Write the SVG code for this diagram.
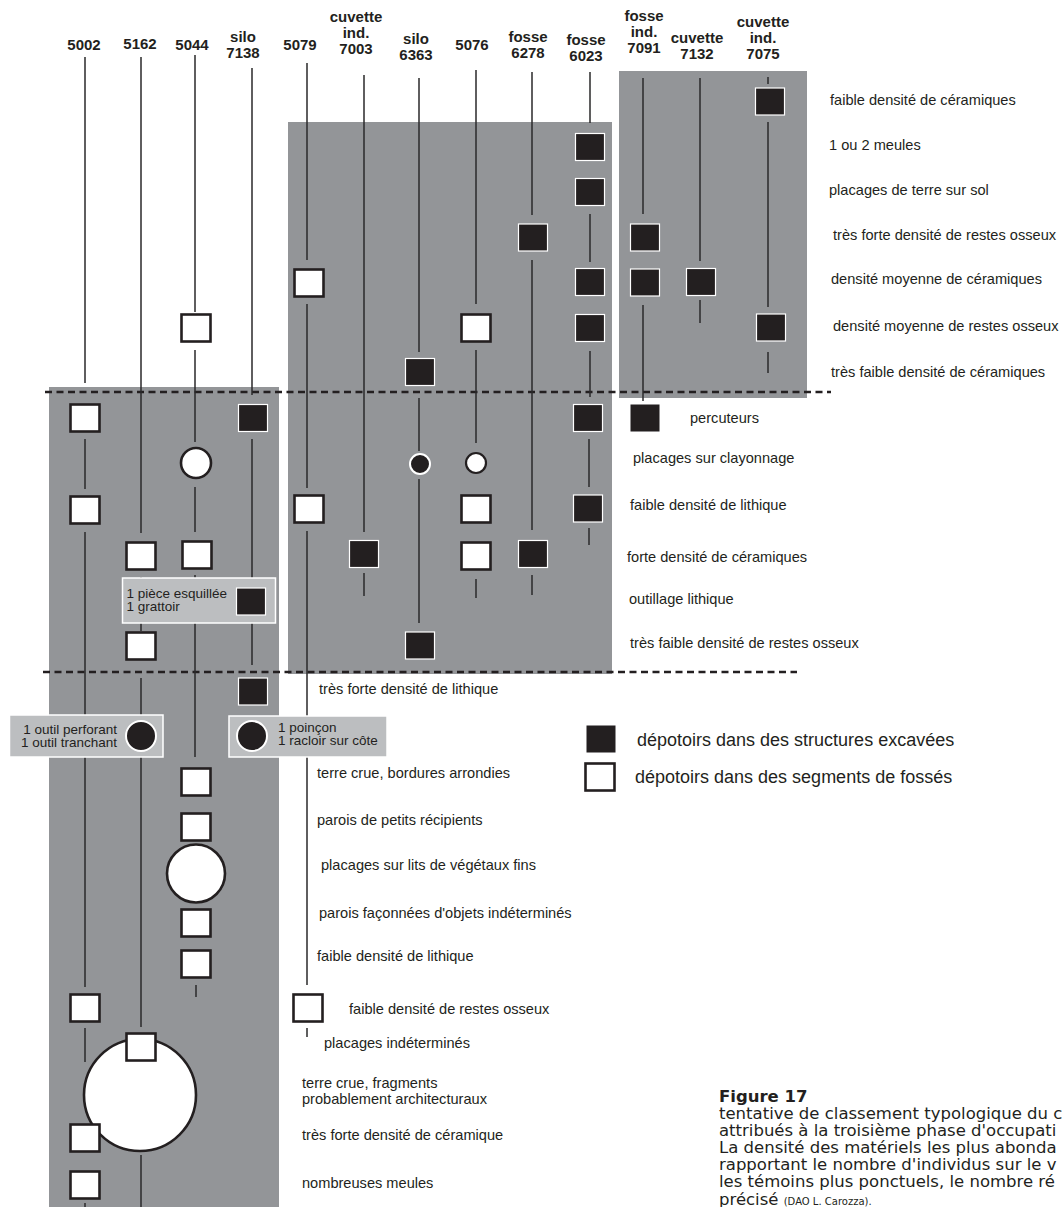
<svg xmlns="http://www.w3.org/2000/svg" width="1062" height="1207" viewBox="0 0 1062 1207">
<style>
.bg{fill:#ffffff}
.panel{fill:#939598}
.call{fill:#bcbec0;stroke:#ffffff;stroke-width:1.5}
.ln{stroke:#2b2a2b;stroke-width:1.5;fill:none}
.dash{stroke:#231f20;stroke-width:2.5;stroke-dasharray:7 4.5;fill:none}
.sw{fill:#ffffff;stroke:#231f20;stroke-width:2.6}
.sb{fill:#231f20;stroke:#ffffff;stroke-width:1.2}
.sbn{fill:#231f20}
.cw{fill:#ffffff;stroke:#231f20;stroke-width:2.6}
.cb{fill:#231f20;stroke:#ffffff;stroke-width:2}
.hd{font-family:"Liberation Sans",Arial,sans-serif;font-weight:bold;font-size:15px;fill:#231f20;text-anchor:middle}
.lb{font-family:"Liberation Sans",Arial,sans-serif;font-size:14.6px;fill:#231f20}
.ct{font-family:"Liberation Sans",Arial,sans-serif;font-size:13.5px;fill:#231f20}
.lg{font-family:"Liberation Sans",Arial,sans-serif;font-size:18px;fill:#231f20}
.cap{font-family:"DejaVu Sans",Verdana,sans-serif;font-size:16.5px;fill:#231f20}
</style>
<rect class="bg" x="0" y="0" width="1062" height="1207"/>

<g id="panels">
<rect class="panel" x="49" y="387" width="230" height="820"/>
<rect class="panel" x="288" y="122" width="324" height="552"/>
<rect class="panel" x="619" y="71" width="188" height="327"/>
</g>

<g id="phase-limits">
<line class="dash" x1="45" y1="392" x2="831" y2="392"/>
<line class="dash" x1="43" y1="672" x2="797" y2="672"/>
</g>

<g id="connectors">
<path class="ln" d="M85 57V383M85 439V489M85 532V987M85 1028V1062M85 1203V1207"/>
<path class="ln" d="M141 57V533M141 577V631M141 678V1027M141 1155V1207"/>
<path class="ln" d="M195 55V312M195 350V442M195 487V532M195 575V757M196 985V997"/>
<path class="ln" d="M252 68V395M252 439V665"/>
<path class="ln" d="M307 63V260M307 304V488M307 531V985M307 1028V1037"/>
<path class="ln" d="M364 75V532M364 573V596"/>
<path class="ln" d="M419 78V352M419 398V451M419 479V623"/>
<path class="ln" d="M476 70V304M476 350V443M476 579V598"/>
<path class="ln" d="M532 72V215M532 260V530M532 575V595"/>
<path class="ln" d="M590 72V123M590 214V262M590 351V397M589 439V487M589 528V545"/>
<path class="ln" d="M643 78V214M643 305V401"/>
<path class="ln" d="M700 78V261M700 300V323"/>
<path class="ln" d="M768 77V84M768 122V307M768 352V373"/>
</g>

<g id="callouts">
<rect id="callout-7138" class="call" x="122.5" y="578" width="153" height="45"/>
<rect id="callout-5162" class="call" x="9.5" y="715" width="153.5" height="42"/>
<rect id="callout-7138b" class="call" x="229" y="716" width="158" height="41"/>
<text class="ct" x="126.5" y="598">1 pièce esquillée</text>
<text class="ct" x="126.5" y="611">1 grattoir</text>
<text class="ct" x="117" y="734" text-anchor="end">1 outil perforant</text>
<text class="ct" x="117" y="747" text-anchor="end">1 outil tranchant</text>
<text class="ct" x="278" y="732">1 poinçon</text>
<text class="ct" x="278" y="745">1 racloir sur côte</text>
</g>

<g id="col-5002">
<text class="hd" x="84" y="50">5002</text>
<rect class="sw" x="70.5" y="404.5" width="29" height="27"/>
<rect class="sw" x="70.5" y="496.5" width="29" height="27"/>
<rect class="sw" x="70.5" y="994.5" width="29" height="27"/>
</g>

<g id="col-5162">
<text class="hd" x="140" y="49">5162</text>
<rect class="sw" x="126.5" y="542.5" width="29" height="27"/>
<rect class="sw" x="126.5" y="632.5" width="29" height="27"/>
<circle class="cb" cx="141" cy="736" r="15"/>
<circle class="cw" cx="140" cy="1095" r="56"/>
<rect class="sw" x="126.5" y="1033.5" width="29" height="27"/>
</g>

<g id="col-5002-low">
<rect class="sw" x="70.5" y="1124.5" width="29" height="27"/>
<rect class="sw" x="70.5" y="1171.5" width="29" height="27"/>
</g>

<g id="col-5044">
<text class="hd" x="192" y="50">5044</text>
<rect class="sw" x="181.5" y="314.5" width="29" height="27"/>
<circle class="cw" cx="196" cy="463" r="15"/>
<rect class="sw" x="182.5" y="541.5" width="29" height="27"/>
<rect class="sw" x="181.5" y="768.5" width="29" height="27"/>
<rect class="sw" x="181.5" y="813.5" width="29" height="27"/>
<circle class="cw" cx="196" cy="873.5" r="29"/>
<rect class="sw" x="181.5" y="909.5" width="29" height="27"/>
<rect class="sw" x="181.5" y="950.5" width="29" height="27"/>
</g>

<g id="col-7138">
<text class="hd" x="243" y="42">silo</text>
<text class="hd" x="243" y="58">7138</text>
<rect class="sb" x="238.5" y="404.5" width="29" height="27"/>
<rect class="sb" x="236.5" y="588" width="29" height="27"/>
<rect class="sb" x="238.5" y="678" width="29" height="27"/>
<circle class="cb" cx="252" cy="736" r="15"/>
</g>

<g id="col-5079">
<text class="hd" x="300" y="50">5079</text>
<rect class="sw" x="294.5" y="269.5" width="29" height="27"/>
<rect class="sw" x="294.5" y="495.5" width="29" height="27"/>
<rect class="sw" x="293.5" y="994.5" width="29" height="27"/>
</g>

<g id="col-7003">
<text class="hd" x="356" y="22">cuvette</text>
<text class="hd" x="356" y="38">ind.</text>
<text class="hd" x="356" y="54">7003</text>
<rect class="sb" x="349.5" y="540.5" width="29" height="27"/>
</g>

<g id="col-6363">
<text class="hd" x="416" y="44">silo</text>
<text class="hd" x="416" y="60">6363</text>
<rect class="sb" x="405.5" y="358.5" width="29" height="27"/>
<circle class="cb" cx="420" cy="464" r="10"/>
<rect class="sb" x="405.5" y="632" width="29" height="27"/>
</g>

<g id="col-5076">
<text class="hd" x="472" y="50">5076</text>
<rect class="sw" x="461.5" y="314.5" width="29" height="27"/>
<circle class="cw" cx="476" cy="463" r="10" style="stroke-width:2.2"/>
<rect class="sw" x="461.5" y="495.5" width="29" height="27"/>
<rect class="sw" x="461.5" y="542.5" width="29" height="27"/>
</g>

<g id="col-6278">
<text class="hd" x="528" y="42">fosse</text>
<text class="hd" x="528" y="58">6278</text>
<rect class="sb" x="518.5" y="224" width="29" height="27"/>
<rect class="sb" x="518.5" y="540.5" width="29" height="27"/>
</g>

<g id="col-6023">
<text class="hd" x="586" y="45">fosse</text>
<text class="hd" x="586" y="61">6023</text>
<rect class="sb" x="575.5" y="133.5" width="29" height="27"/>
<rect class="sb" x="575.5" y="178.5" width="29" height="27"/>
<rect class="sb" x="575.5" y="268.5" width="29" height="27"/>
<rect class="sb" x="575.5" y="314.5" width="29" height="27"/>
<rect class="sb" x="573.5" y="404.5" width="29" height="27"/>
<rect class="sb" x="573.5" y="495" width="29" height="27"/>
</g>

<g id="col-7091">
<text class="hd" x="644" y="21">fosse</text>
<text class="hd" x="644" y="37">ind.</text>
<text class="hd" x="644" y="53">7091</text>
<rect class="sb" x="630.5" y="224" width="29" height="27"/>
<rect class="sb" x="630.5" y="269" width="29" height="27"/>
<rect class="sbn" x="630.5" y="404.5" width="29" height="27"/>
</g>

<g id="col-7132">
<text class="hd" x="697" y="43">cuvette</text>
<text class="hd" x="697" y="59">7132</text>
<rect class="sb" x="686.5" y="268.5" width="29" height="27"/>
</g>

<g id="col-7075">
<text class="hd" x="763" y="27">cuvette</text>
<text class="hd" x="763" y="43">ind.</text>
<text class="hd" x="763" y="59">7075</text>
<rect class="sb" x="755.5" y="88" width="29" height="27"/>
<rect class="sb" x="756.5" y="314" width="29" height="27"/>
</g>

<g id="labels-upper">
<text class="lb" x="830" y="105">faible densité de céramiques</text>
<text class="lb" x="829" y="150">1 ou 2 meules</text>
<text class="lb" x="829" y="195">placages de terre sur sol</text>
<text class="lb" x="833" y="240">très forte densité de restes osseux</text>
<text class="lb" x="831" y="284">densité moyenne de céramiques</text>
<text class="lb" x="833" y="331">densité moyenne de restes osseux</text>
<text class="lb" x="831" y="377">très faible densité de céramiques</text>
</g>

<g id="labels-middle">
<text class="lb" x="690" y="423">percuteurs</text>
<text class="lb" x="633" y="463">placages sur clayonnage</text>
<text class="lb" x="630" y="510">faible densité de lithique</text>
<text class="lb" x="627" y="562">forte densité de céramiques</text>
<text class="lb" x="629" y="604">outillage lithique</text>
<text class="lb" x="630" y="648">très faible densité de restes osseux</text>
</g>

<g id="labels-lower">
<text class="lb" x="319" y="694">très forte densité de lithique</text>
<text class="lb" x="317" y="778">terre crue, bordures arrondies</text>
<text class="lb" x="317" y="825">parois de petits récipients</text>
<text class="lb" x="321" y="870">placages sur lits de végétaux fins</text>
<text class="lb" x="319" y="918">parois façonnées d'objets indéterminés</text>
<text class="lb" x="317" y="961">faible densité de lithique</text>
<text class="lb" x="349" y="1014">faible densité de restes osseux</text>
<text class="lb" x="324" y="1048">placages indéterminés</text>
<text class="lb" x="302" y="1088">terre crue, fragments</text>
<text class="lb" x="302" y="1104">probablement architecturaux</text>
<text class="lb" x="302" y="1140">très forte densité de céramique</text>
<text class="lb" x="302" y="1188">nombreuses meules</text>
</g>

<g id="legend">
<rect class="sbn" x="586.5" y="725.5" width="29" height="27"/>
<rect class="sw" x="585.5" y="763.5" width="29" height="27"/>
<text class="lg" x="637" y="746">dépotoirs dans des structures excavées</text>
<text class="lg" x="635" y="783">dépotoirs dans des segments de fossés</text>
</g>

<g id="caption">
<text class="cap" x="719" y="1102" font-weight="bold" font-size="15.5px">Figure 17</text>
<text class="cap" x="719" y="1119">tentative de classement typologique du c</text>
<text class="cap" x="719" y="1136">attribués à la troisième phase d'occupati</text>
<text class="cap" x="719" y="1153">La densité des matériels les plus abonda</text>
<text class="cap" x="719" y="1170">rapportant le nombre d'individus sur le v</text>
<text class="cap" x="719" y="1187">les témoins plus ponctuels, le nombre ré</text>
<text class="cap" x="719" y="1205">précisé <tspan font-size="10px">(DAO L. Carozza).</tspan></text>
</g>
</svg>
